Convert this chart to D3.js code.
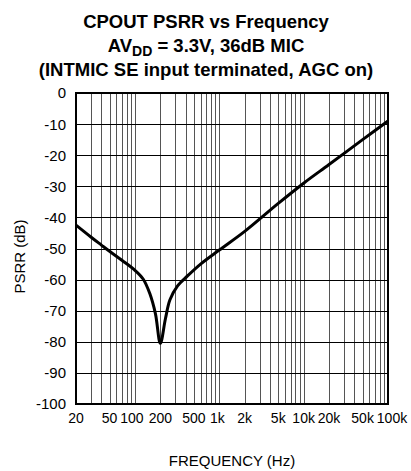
<!DOCTYPE html>
<html>
<head>
<meta charset="utf-8">
<script src="https://cdn.jsdelivr.net/npm/d3@7"></script>
<style>
  body { margin: 0; background: #fff; }
  svg { display: block; font-family: 'Liberation Sans', Arial, sans-serif; }
</style>
</head>
<body>
<svg width="411" height="471"></svg>
<script>
'use strict';

/* Curve: frequency (Hz) and PSRR (dB). */
var freqs = [20, 30, 40, 50, 70, 100, 125, 150, 175, 200, 230, 260, 320, 420, 600, 1000, 2000, 5000, 10000, 20000, 50000, 100000];
var psrr = [-42.5, -46.3, -48.9, -50.9, -53.8, -57, -59.8, -64.5, -71, -80.5, -72.5, -66.5, -62, -58.8, -55, -50.5, -44.5, -35.5, -29, -23, -15, -9];

/* Tick labels. */
var xTicks = [20, 50, 100, 200, 500, 1000, 2000, 5000, 10000, 20000, 50000, 100000];
var xTickLabels = ['20', '50', '100', '200', '500', '1k', '2k', '5k', '10k', '20k', '50k', '100k'];
var yTicks = [0, -10, -20, -30, -40, -50, -60, -70, -80, -90, -100];

/* Minor grid lines: 1..9 times each decade. */
var xGrid = [];
[10, 100, 1000, 10000].forEach(function (dec) {
  for (var k = 1; k <= 9; k++) {
    var f = dec * k;
    if (f > 20 && f < 100000) xGrid.push(f);
  }
});

/* Small nudges so crowded labels do not touch. */
var labelShift = {100: -3, 1000: -2, 100000: 4};

var svg = d3.select('svg');
var margin = {top: 93, right: 23, bottom: 67, left: 76};
var width = 411 - margin.left - margin.right;
var height = 471 - margin.top - margin.bottom;

var x = d3.scaleLog().domain([20, 100000]).range([0, width]);
var y = d3.scaleLinear().domain([-100, 0]).range([height, 0]);

var g = svg.append('g')
  .attr('transform', 'translate(' + margin.left + ',' + margin.top + ')');

/* Vertical grid. */
g.selectAll('.vgrid')
  .data(xGrid)
  .enter()
  .append('line')
  .attr('x1', function (d) { return Math.round(x(d)) + 0.5; })
  .attr('x2', function (d) { return Math.round(x(d)) + 0.5; })
  .attr('y1', 0)
  .attr('y2', height)
  .attr('stroke', '#555')
  .attr('stroke-width', 1);

/* Horizontal grid. */
g.selectAll('.hgrid')
  .data(yTicks)
  .enter()
  .append('line')
  .attr('x1', 0)
  .attr('x2', width)
  .attr('y1', function (d) { return Math.round(y(d)) + 0.5; })
  .attr('y2', function (d) { return Math.round(y(d)) + 0.5; })
  .attr('stroke', '#000')
  .attr('stroke-width', 1);

/* Frame. */
g.append('rect')
  .attr('width', width)
  .attr('height', height)
  .attr('fill', 'none')
  .attr('stroke', '#000')
  .attr('stroke-width', 2);

/* Y axis labels. */
g.selectAll('.ylab')
  .data(yTicks)
  .enter()
  .append('text')
  .attr('x', -10)
  .attr('y', function (d) { return y(d); })
  .attr('dy', '0.36em')
  .attr('text-anchor', 'end')
  .attr('font-size', 15)
  .text(function (d) { return d; });

/* X axis labels. */
g.selectAll('.xlab')
  .data(xTicks)
  .enter()
  .append('text')
  .attr('x', function (d) { return x(d) + (labelShift[d] || 0); })
  .attr('y', height + 19)
  .attr('text-anchor', 'middle')
  .attr('font-size', 14)
  .text(function (d, i) { return xTickLabels[i]; });

/* Curve. */
var line = d3.line()
  .x(function (d) { return x(d[0]); })
  .y(function (d) { return y(d[1]); })
  .curve(d3.curveCatmullRom.alpha(0.5));

g.append('path')
  .datum(d3.zip(freqs, psrr))
  .attr('d', line)
  .attr('fill', 'none')
  .attr('stroke', '#000')
  .attr('stroke-width', 3)
  .attr('stroke-linejoin', 'round');

/* Axis titles. */
g.append('text')
  .attr('x', width / 2)
  .attr('y', height + 62)
  .attr('text-anchor', 'middle')
  .attr('font-size', 15)
  .text('FREQUENCY (Hz)');

svg.append('text')
  .attr('transform', 'translate(25,' + (margin.top + height / 2 + 8) + ') rotate(-90)')
  .attr('text-anchor', 'middle')
  .attr('font-size', 15)
  .text('PSRR (dB)');

/* Title. */
var title = svg.append('text')
  .attr('text-anchor', 'middle')
  .attr('font-weight', 'bold')
  .attr('font-size', 18.5);

title.append('tspan').attr('x', 206).attr('y', 28).text('CPOUT PSRR vs Frequency');
var l2 = title.append('tspan').attr('x', 206).attr('y', 52);
l2.append('tspan').text('AV');
l2.append('tspan').attr('font-size', 14).attr('dy', 4).text('DD');
l2.append('tspan').attr('dy', -4).text(' = 3.3V, 36dB MIC');
title.append('tspan').attr('x', 206).attr('y', 76).text('(INTMIC SE input terminated, AGC on)');
</script>
</body>
</html>
